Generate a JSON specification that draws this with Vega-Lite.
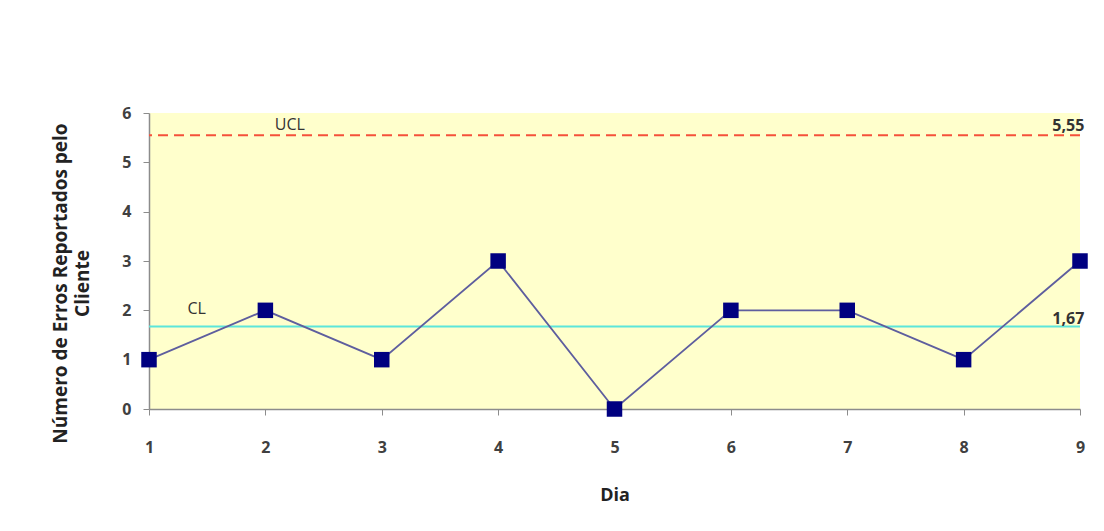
{
  "$schema": "https://vega.github.io/schema/vega-lite/v6.json",
  "width": 931,
  "height": 296,
  "autosize": "none",
  "padding": {"left": 149, "top": 113, "right": 24, "bottom": 122},
  "background": "white",
  "config": {
    "view": {"fill": "#FFFFCC", "stroke": null},
    "font": "Open Sans",
    "axis": {
      "grid": false,
      "domainColor": "#8C8C8C",
      "tickColor": "#8C8C8C",
      "domainWidth": 1.5,
      "tickSize": 6,
      "labelFont": "Open Sans",
      "labelFontSize": 16,
      "labelFontWeight": "bold",
      "labelColor": "#404040",
      "titleFont": "Open Sans",
      "titleFontWeight": "bold",
      "titleColor": "#222222"
    }
  },
  "datasets": {
    "pontos": [
      {"Dia": 1, "Erros": 1},
      {"Dia": 2, "Erros": 2},
      {"Dia": 3, "Erros": 1},
      {"Dia": 4, "Erros": 3},
      {"Dia": 5, "Erros": 0},
      {"Dia": 6, "Erros": 2},
      {"Dia": 7, "Erros": 2},
      {"Dia": 8, "Erros": 1},
      {"Dia": 9, "Erros": 3}
    ],
    "limites": [
      {"nome": "UCL", "valor": 5.55},
      {"nome": "CL", "valor": 1.67}
    ],
    "rotulos": [
      {"texto": "UCL", "Dia": 2.21, "valor": 5.55},
      {"texto": "5,55", "Dia": 8.9, "valor": 5.55},
      {"texto": "CL", "Dia": 1.41, "valor": 1.67},
      {"texto": "1,67", "Dia": 8.9, "valor": 1.67}
    ]
  },
  "layer": [
    {
      "data": {"name": "limites"},
      "transform": [{"filter": "datum.nome === 'UCL'"}],
      "mark": {"type": "rule", "color": "#F5513A", "strokeWidth": 2, "strokeDash": [10, 6]},
      "encoding": {
        "y": {"field": "valor", "type": "quantitative", "scale": {"domain": [0, 6]}}
      }
    },
    {
      "data": {"name": "limites"},
      "transform": [{"filter": "datum.nome === 'CL'"}],
      "mark": {"type": "rule", "color": "#5CE6DA", "strokeWidth": 2},
      "encoding": {
        "y": {"field": "valor", "type": "quantitative", "scale": {"domain": [0, 6]}}
      }
    },
    {
      "data": {"name": "pontos"},
      "mark": {"type": "line", "color": "#5E5E9E", "strokeWidth": 1.8},
      "encoding": {
        "x": {
          "field": "Dia", "type": "quantitative",
          "scale": {"domain": [1, 9], "nice": false, "zero": false},
          "axis": {"values": [1, 2, 3, 4, 5, 6, 7, 8, 9], "format": "d", "labelPadding": 24, "title": "Dia", "titleFontSize": 18, "titlePadding": 31, "labelFlush": false}
        },
        "y": {
          "field": "Erros", "type": "quantitative",
          "scale": {"domain": [0, 6], "nice": false},
          "axis": {"values": [0, 1, 2, 3, 4, 5, 6], "format": "d", "labelPadding": 12, "title": ["Número de Erros Reportados pelo", "Cliente"], "titleFontSize": 19, "titleLineHeight": 22, "titlePadding": 29, "titleY": 170}
        }
      }
    },
    {
      "data": {"name": "pontos"},
      "mark": {"type": "point", "shape": "square", "filled": true, "color": "#000080", "size": 240, "opacity": 1},
      "encoding": {
        "x": {"field": "Dia", "type": "quantitative"},
        "y": {"field": "Erros", "type": "quantitative"}
      }
    },
    {
      "data": {"name": "rotulos"},
      "transform": [{"filter": "datum.texto === 'UCL'"}],
      "mark": {"type": "text", "font": "Open Sans", "fontSize": 16, "color": "#333333", "dy": -10},
      "encoding": {
        "x": {"field": "Dia", "type": "quantitative"},
        "y": {"field": "valor", "type": "quantitative"},
        "text": {"field": "texto"}
      }
    },
    {
      "data": {"name": "rotulos"},
      "transform": [{"filter": "datum.texto === '5,55'"}],
      "mark": {"type": "text", "font": "Open Sans", "fontSize": 16, "fontWeight": "bold", "color": "#333333", "dy": -9},
      "encoding": {
        "x": {"field": "Dia", "type": "quantitative"},
        "y": {"field": "valor", "type": "quantitative"},
        "text": {"field": "texto"}
      }
    },
    {
      "data": {"name": "rotulos"},
      "transform": [{"filter": "datum.texto === 'CL'"}],
      "mark": {"type": "text", "font": "Open Sans", "fontSize": 16, "color": "#333333", "dy": -18},
      "encoding": {
        "x": {"field": "Dia", "type": "quantitative"},
        "y": {"field": "valor", "type": "quantitative"},
        "text": {"field": "texto"}
      }
    },
    {
      "data": {"name": "rotulos"},
      "transform": [{"filter": "datum.texto === '1,67'"}],
      "mark": {"type": "text", "font": "Open Sans", "fontSize": 16, "fontWeight": "bold", "color": "#333333", "dy": -8},
      "encoding": {
        "x": {"field": "Dia", "type": "quantitative"},
        "y": {"field": "valor", "type": "quantitative"},
        "text": {"field": "texto"}
      }
    }
  ]
}
